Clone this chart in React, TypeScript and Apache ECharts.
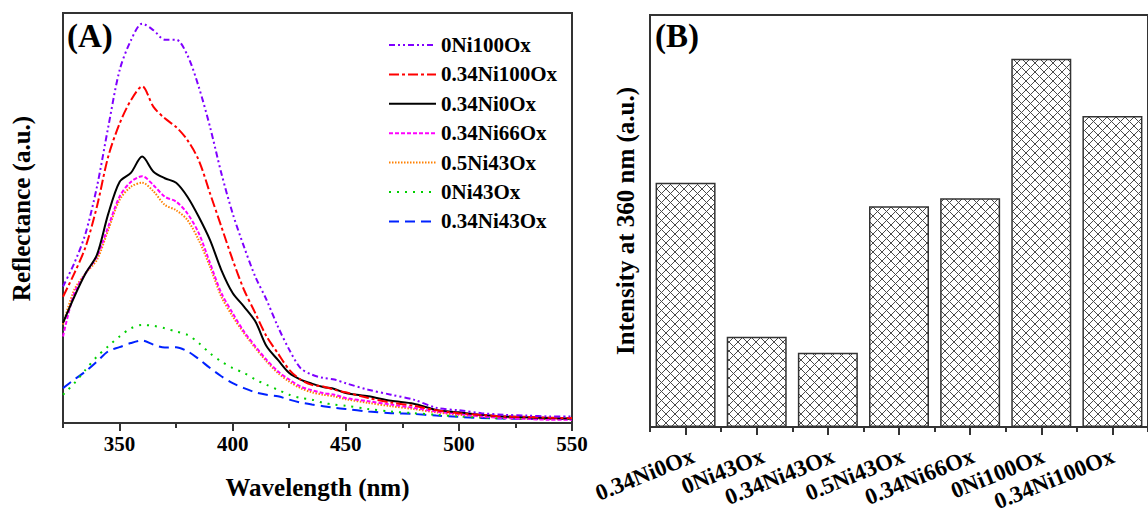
import React, { useEffect, useRef } from "react";
import * as echarts from "echarts";

// ---------- Panel (A) data ----------
const WAVELENGTH = [325, 330, 335, 340, 345, 350, 355, 360, 365, 370, 375, 380, 385, 390, 395, 400, 405, 410, 415, 420, 425, 430, 435, 440, 445, 450, 460, 470, 480, 490, 500, 510, 520, 530, 540, 550];

const S_0NI100OX = [33.3, 39, 46.3, 57.6, 72.2, 86, 93.3, 97.4, 95.8, 93.5, 93.5, 89.7, 82, 72.2, 60.9, 51.1, 43, 35.7, 30, 23.5, 17.9, 13.4, 11.8, 11, 10.6, 9.7, 8.1, 6.9, 5.7, 3.7, 3.1, 2.4, 2, 1.8, 1.6, 1.6];
const S_034NI100OX = [30.8, 36.5, 43, 52.8, 65, 73, 78.7, 82.1, 77.1, 74.3, 72.2, 69, 64.1, 56, 47.9, 39.8, 32.5, 26.8, 21.1, 17, 13, 10.6, 9.3, 8.9, 8.1, 7.5, 6.1, 5, 4.2, 3.1, 2.4, 2, 1.6, 1.5, 1.3, 1.2];
const S_034NI0OX = [24.4, 30.8, 36.5, 41, 51, 58.8, 61, 65, 61.3, 59.7, 58.6, 55.2, 50.3, 44.6, 37.3, 31.7, 28.4, 24.8, 18.7, 15.4, 12.2, 10.6, 9.6, 8.8, 8.3, 7.3, 6.5, 5.4, 4.7, 3.2, 2.6, 2, 1.6, 1.4, 1.2, 1.1];
const S_034NI66OX = [21.1, 31.7, 36.5, 40.6, 47.9, 55.2, 58.8, 60.2, 58, 55.2, 54, 51.1, 46.3, 39, 31.7, 26.8, 22.3, 18.7, 15.4, 12.6, 10.6, 8.9, 8, 7.3, 6.9, 6.1, 5.3, 4.5, 3.7, 2.8, 2.2, 1.6, 1.2, 1, 0.8, 0.8];
const S_05NI43OX = [24, 32.5, 36.5, 39.8, 47.1, 54.4, 57.6, 58.6, 56.5, 53.2, 51.9, 49.5, 44.6, 38.1, 30.8, 26, 21.9, 18.3, 15, 12.2, 10.1, 8.5, 7.5, 6.9, 6.5, 5.8, 4.9, 4.1, 3.4, 2.6, 2, 1.6, 1.3, 1.1, 1, 1];
const S_0NI43OX = [6.9, 9.7, 13, 16.2, 18.7, 21.1, 23.1, 23.9, 23.7, 23.1, 22.3, 21.5, 19.5, 17, 15, 13.4, 12.2, 10.6, 9.3, 8.1, 6.9, 6.1, 5.7, 4.9, 4.5, 4.2, 3.4, 2.8, 2.4, 2, 1.6, 1.3, 1.1, 1, 1, 1];
const S_034NI43OX = [8.5, 10.6, 12.6, 15, 17.5, 18.5, 19.5, 20.1, 19.1, 18.4, 18.5, 17.5, 15.6, 13.4, 11.4, 9.7, 8.5, 7.5, 6.9, 6.5, 5.7, 5, 4.5, 4.1, 3.7, 3.4, 2.8, 2.4, 2.2, 1.8, 1.5, 1.2, 1.1, 1, 1, 1];

const LINE_NAMES = ["0Ni100Ox", "0.34Ni100Ox", "0.34Ni0Ox", "0.34Ni66Ox", "0.5Ni43Ox", "0Ni43Ox", "0.34Ni43Ox"];
const LINE_VALUES = [S_0NI100OX, S_034NI100OX, S_034NI0OX, S_034NI66OX, S_05NI43OX, S_0NI43OX, S_034NI43OX];

const X_MAJOR_TICKS = [350, 400, 450, 500, 550];
const X_MINOR_TICKS = [325, 375, 425, 475, 525];

// ---------- Panel (B) data ----------
const BAR_CATEGORIES = ["0.34Ni0Ox", "0Ni43Ox", "0.34Ni43Ox", "0.5Ni43Ox", "0.34Ni66Ox", "0Ni100Ox", "0.34Ni100Ox"];
const BAR_VALUES = [59.3, 21.9, 18.0, 53.6, 55.5, 89.4, 75.5];

// ---------- styles ----------
const FONT = "'Liberation Serif', 'Times New Roman', serif";
const FRAME = "#333";
const LINE_STYLES: any[] = [
  { color: "#7f00ff", type: [6, 3, 2, 3, 2, 3] },
  { color: "#ff0000", type: [10, 3, 3, 3] },
  { color: "#000000", type: "solid" },
  { color: "#ff00ff", type: [4, 2] },
  { color: "#ff8000", type: [1.5, 1.5] },
  { color: "#00d000", type: [2, 6] },
  { color: "#0022ff", type: [10, 6] },
];

function makeHatch() {
  const s = 9;
  const c = document.createElement("canvas");
  c.width = s;
  c.height = s;
  const ctx = c.getContext("2d")!;
  ctx.fillStyle = "#ffffff";
  ctx.fillRect(0, 0, s, s);
  ctx.strokeStyle = "#4a4a4a";
  ctx.lineWidth = 1;
  ctx.beginPath();
  for (const d of [-s, 0, s]) {
    ctx.moveTo(d, 0);
    ctx.lineTo(d + s, s);
    ctx.moveTo(d + s, 0);
    ctx.lineTo(d, s);
  }
  ctx.stroke();
  return c;
}

export default function App() {
  const ref = useRef<HTMLDivElement>(null);

  useEffect(() => {
    if (!ref.current) return;
    const chart = echarts.init(ref.current, null, { renderer: "svg" });
    const hatch = makeHatch();

    const nameStyle = { fontFamily: FONT, fontWeight: "bold", fontSize: 25, color: "#000" };
    const labelStyle = { fontFamily: FONT, fontWeight: "bold", fontSize: 21, color: "#000" };

    const lineSeries = LINE_NAMES.map((name, k) => ({
      name,
      type: "line",
      xAxisIndex: 0,
      yAxisIndex: 0,
      data: WAVELENGTH.map((w, i) => [w, LINE_VALUES[k][i]]),
      symbol: "none",
      smooth: 0.3,
      lineStyle: { width: 2, color: LINE_STYLES[k].color, type: LINE_STYLES[k].type },
      itemStyle: { color: LINE_STYLES[k].color },
      z: 10 - k,
    }));

    const BAR_LABEL_DX = 8;

    const option: any = {
      animation: false,
      backgroundColor: "#ffffff",
      grid: [
        { left: 63, top: 13, width: 509, height: 410, show: true, borderColor: FRAME, borderWidth: 2, backgroundColor: "transparent" },
        { left: 650, top: 15, width: 511, height: 412, show: true, borderColor: FRAME, borderWidth: 2, backgroundColor: "transparent" },
        { left: 650 + BAR_LABEL_DX, top: 15, width: 511, height: 412, show: false },
      ],
      legend: {
        data: LINE_NAMES,
        orient: "vertical",
        left: 388,
        top: 34,
        padding: 0,
        itemWidth: 47,
        itemHeight: 14,
        itemGap: 7.4,
        itemStyle: { color: "transparent", borderColor: "transparent", borderWidth: 0, opacity: 0 },
        textStyle: { ...labelStyle, lineHeight: 22 },
        selectedMode: false,
      },
      xAxis: [
        {
          type: "value",
          gridIndex: 0,
          min: 325,
          max: 550,
          position: "bottom",
          axisLine: { show: true, onZero: false, lineStyle: { color: FRAME, width: 2 } },
          axisTick: { show: true, customValues: X_MAJOR_TICKS, length: 8, lineStyle: { color: FRAME, width: 2 } },
          axisLabel: { show: true, customValues: X_MAJOR_TICKS, margin: 10, ...labelStyle },
          splitLine: { show: false },
          name: "Wavelength (nm)",
          nameLocation: "middle",
          nameGap: 52,
          nameTextStyle: nameStyle,
        },
        {
          type: "value",
          gridIndex: 0,
          min: 325,
          max: 550,
          position: "bottom",
          axisLine: { show: false, onZero: false },
          axisTick: { show: true, customValues: X_MINOR_TICKS, length: 5, lineStyle: { color: FRAME, width: 2 } },
          axisLabel: { show: false },
          splitLine: { show: false },
        },
        {
          type: "category",
          gridIndex: 1,
          data: BAR_CATEGORIES,
          position: "bottom",
          axisLine: { show: true, onZero: false, lineStyle: { color: FRAME, width: 2 } },
          axisTick: { show: true, interval: 0, alignWithLabel: true, length: 8, lineStyle: { color: FRAME, width: 2 } },
          axisLabel: { show: false, interval: 0 },
          splitLine: { show: false },
        },
        {
          type: "category",
          gridIndex: 1,
          data: BAR_CATEGORIES,
          position: "bottom",
          axisLine: { show: false, onZero: false },
          axisTick: { show: true, interval: 0, length: 5, lineStyle: { color: FRAME, width: 2 } },
          axisLabel: { show: false, interval: 0 },
          splitLine: { show: false },
        },
        {
          type: "category",
          gridIndex: 2,
          data: BAR_CATEGORIES,
          position: "bottom",
          axisLine: { show: false, onZero: false },
          axisTick: { show: false },
          axisLabel: { show: true, interval: 0, rotate: 22, margin: 28, ...labelStyle, fontSize: 23 },
          splitLine: { show: false },
        },
      ],
      yAxis: [
        {
          type: "value",
          gridIndex: 0,
          min: 0,
          max: 100,
          axisLine: { show: true, onZero: false, lineStyle: { color: FRAME, width: 2 } },
          axisTick: { show: false },
          axisLabel: { show: false },
          splitLine: { show: false },
          name: "Reflectance (a.u.)",
          nameLocation: "middle",
          nameGap: 29,
          nameTextStyle: { ...nameStyle, padding: [0, 0, 0, 19] },
        },
        {
          type: "value",
          gridIndex: 1,
          min: 0,
          max: 100,
          axisLine: { show: true, onZero: false, lineStyle: { color: FRAME, width: 2 } },
          axisTick: { show: false },
          axisLabel: { show: false },
          splitLine: { show: false },
          name: "Intensity at 360 nm (a.u.)",
          nameLocation: "middle",
          nameGap: 12,
          nameTextStyle: nameStyle,
        },
        {
          type: "value",
          gridIndex: 2,
          min: 0,
          max: 100,
          show: false,
        },
      ],
      series: [
        ...lineSeries,
        {
          name: "Intensity at 360 nm",
          type: "bar",
          xAxisIndex: 2,
          yAxisIndex: 1,
          data: BAR_VALUES,
          barWidth: 60,
          itemStyle: {
            color: { image: hatch, repeat: "repeat", imageWidth: 9, imageHeight: 9 },
            borderColor: FRAME,
            borderWidth: 1.5,
          },
        },
      ],
      graphic: [
        { type: "text", left: 67, top: 19, style: { text: "(A)", font: `bold 33px ${FONT}`, fill: "#000" } },
        { type: "text", left: 655, top: 19, style: { text: "(B)", font: `bold 33px ${FONT}`, fill: "#000" } },
      ],
    };

    chart.setOption(option);
    return () => {
      chart.dispose();
    };
  }, []);

  return <div ref={ref} style={{ position: "fixed", left: 0, top: 0, width: 1148, height: 517 }} />;
}
